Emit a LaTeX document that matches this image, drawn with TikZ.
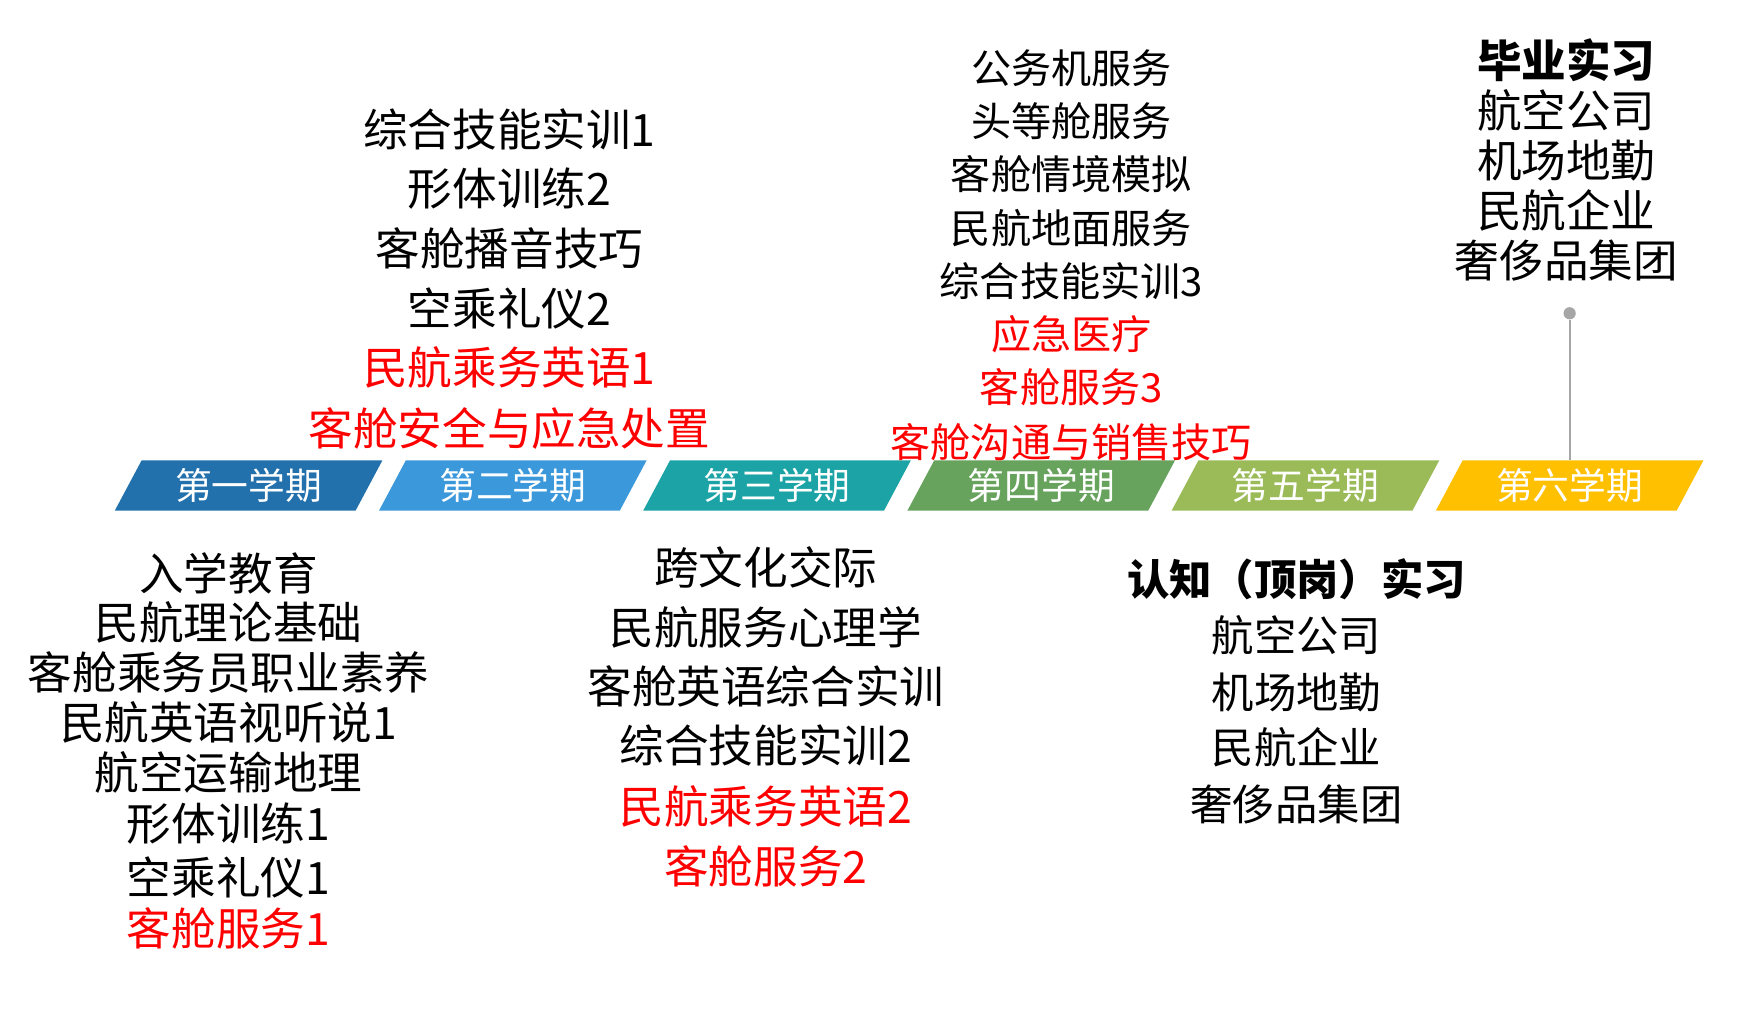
\documentclass[tikz,border=0pt]{standalone}
\usepackage{fontspec}
\setmainfont{Noto Sans CJK SC}
\definecolor{cA}{HTML}{2271AD}
\definecolor{cB}{HTML}{3A98DB}
\definecolor{cC}{HTML}{1BA3A6}
\definecolor{cD}{HTML}{67A35C}
\definecolor{cE}{HTML}{9BBB59}
\definecolor{cF}{HTML}{FFC000}
\definecolor{pinc}{HTML}{A6A6A6}
\tikzset{
  lbl/.style={inner sep=0pt, text height=1.38em, text depth=0.12em, anchor=center},
  big/.style={lbl, yshift=-8pt, font=\fontsize{40}{40}\selectfont},
  mid/.style={lbl, yshift=-7pt, font=\fontsize{36}{36}\selectfont},
  hl/.style={text=red},
  barlbl/.style={lbl, yshift=-6pt, text=white, font=\fontsize{33}{33}\selectfont},
}
\begin{document}
\begin{tikzpicture}[x=1pt,y=-1pt]
\useasboundingbox (0,0) rectangle (1568,919.4);
% timeline bar
\foreach \i/\c/\t in {0/cA/第一学期,1/cB/第二学期,2/cC/第三学期,3/cD/第四学期,4/cE/第五学期,5/cF/第六学期}{
  \pgfmathsetmacro{\bl}{103+237*\i}
  \fill[\c] (\bl,458) -- (\bl+216,458) -- (\bl+240,413) -- (\bl+24,413) -- cycle;
  \node[barlbl] (s\i) at (\bl+120,436) {\t};
}
% column 1 (bottom)
\node[big] (a1) at (205,515) {入学教育};
\node[big] (a2) at (205,559) {民航理论基础};
\node[big] (a3) at (205,604) {客舱乘务员职业素养};
\node[big] (a4) at (205,649) {民航英语视听说1};
\node[big] (a5) at (205,694) {航空运输地理};
\node[big] (a6) at (205,740) {形体训练1};
\node[big] (a7) at (205,788) {空乘礼仪1};
\node[big,hl] (a8) at (205,834) {客舱服务1};
% column 2 (top)
\node[big] (b1) at (457,117) {综合技能实训1};
\node[big] (b2) at (457,170) {形体训练2};
\node[big] (b3) at (457,224) {客舱播音技巧};
\node[big] (b4) at (457,278) {空乘礼仪2};
\node[big,hl] (b5) at (457,331) {民航乘务英语1};
\node[big,hl] (b6) at (457,385) {客舱安全与应急处置};
% column 3 (bottom)
\node[big] (c1) at (687,510) {跨文化交际};
\node[big] (c2) at (687,564) {民航服务心理学};
\node[big] (c3) at (687,617) {客舱英语综合实训};
\node[big] (c4) at (687,670) {综合技能实训2};
\node[big,hl] (c5) at (687,724) {民航乘务英语2};
\node[big,hl] (c6) at (687,778) {客舱服务2};
% column 4 (top)
\node[mid] (d1) at (961,62) {公务机服务};
\node[mid] (d2) at (961,109) {头等舱服务};
\node[mid] (d3) at (961,157) {客舱情境模拟};
\node[mid] (d4) at (961,205) {民航地面服务};
\node[mid] (d5) at (961,253) {综合技能实训3};
\node[mid,hl] (d6) at (961,300) {应急医疗};
\node[mid,hl] (d7) at (961,348) {客舱服务3};
\node[mid,hl] (d8) at (961,397) {客舱沟通与销售技巧};
% column 5 (bottom)
\node[lbl,yshift=-8pt,font=\fontsize{38}{38}\selectfont\bfseries] (e1) at (1163,520) {认知（顶岗）实习};
\node[lbl,yshift=-8pt,font=\fontsize{38}{38}\selectfont] (e2) at (1163,570) {航空公司};
\node[lbl,yshift=-8pt,font=\fontsize{38}{38}\selectfont] (e3) at (1163,621) {机场地勤};
\node[lbl,yshift=-8pt,font=\fontsize{38}{38}\selectfont] (e4) at (1163,671) {民航企业};
\node[lbl,yshift=-8pt,font=\fontsize{38}{38}\selectfont] (e5) at (1163,722) {奢侈品集团};
% column 6 (top)
\node[big,font=\fontsize{40}{40}\selectfont\bfseries] (f1) at (1405,55) {毕业实习};
\node[big] (f2) at (1405,100) {航空公司};
\node[big] (f3) at (1405,145) {机场地勤};
\node[big] (f4) at (1405,190) {民航企业};
\node[big] (f5) at (1405,235) {奢侈品集团};
% pin
\node[circle, fill=pinc, inner sep=0pt, minimum size=11pt] (pin) at (1408,281) {};
\coordinate (pinend) at (1408,413);
\draw[pinc, line width=2pt] (pin) -- (pinend);
\end{tikzpicture}
\end{document}
